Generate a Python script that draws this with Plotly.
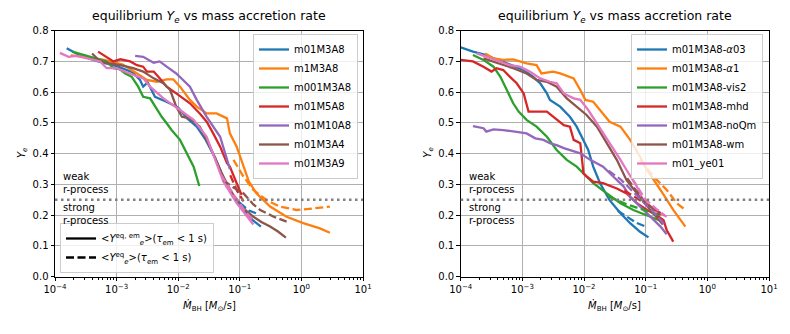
import plotly.graph_objects as go

# ---------------- data ----------------
COLORS = ["#1f77b4", "#ff7f0e", "#2ca02c", "#d62728", "#9467bd", "#8c564b", "#e377c2"]

LEFT_NAMES = ["m01M3A8", "m1M3A8", "m001M3A8", "m01M5A8", "m01M10A8", "m01M3A4", "m01M3A9"]
RIGHT_NAMES = ["m01M3A8-<i>α</i>03", "m01M3A8-<i>α</i>1", "m01M3A8-vis2", "m01M3A8-mhd",
               "m01M3A8-noQm", "m01M3A8-wm", "m01_ye01"]

X_TICKVALS = [1e-4, 1e-3, 1e-2, 1e-1, 1e0, 1e1]
X_TICKTEXT = ["10<sup>−4</sup>", "10<sup>−3</sup>", "10<sup>−2</sup>", "10<sup>−1</sup>",
              "10<sup>0</sup>", "10<sup>1</sup>"]
RPROCESS_THRESHOLD = 0.25

# ---- left panel: solid = <Ye^eq,em>, dashed = <Ye^eq> ----
L1_x = [1.55e-4, 2.5e-4, 5.0e-4, 1.0e-3, 1.8e-3, 2.4e-3, 2.7e-3, 3.2e-3, 4.2e-3, 6.3e-3, 1.0e-2,
        1.4e-2, 2.0e-2, 2.8e-2, 4.0e-2, 5.6e-2, 7.9e-2, 0.11, 0.16, 0.22]
L1_y = [0.743, 0.72, 0.70, 0.685, 0.665, 0.64, 0.618, 0.632, 0.585, 0.57, 0.55,
        0.515, 0.488, 0.445, 0.385, 0.315, 0.26, 0.22, 0.185, 0.163]
L1_dx = [0.1, 0.14, 0.19]
L1_dy = [0.24, 0.215, 0.205]

L2_x = [1.8e-4, 3.2e-4, 6.3e-4, 1.26e-3, 2.0e-3, 3.1e-3, 4.5e-3, 6.5e-3, 8.3e-3, 1.07e-2, 1.55e-2,
        2.0e-2, 2.9e-2, 4.2e-2, 6.2e-2, 6.9e-2, 8.9e-2, 0.115, 0.14, 0.186, 0.31, 0.575, 1.07, 2.0, 2.9]
L2_y = [0.72, 0.715, 0.705, 0.69, 0.665, 0.64, 0.634, 0.642, 0.642, 0.618, 0.575,
        0.553, 0.531, 0.531, 0.515, 0.466, 0.423, 0.358, 0.31, 0.271, 0.228, 0.195, 0.174, 0.157, 0.143]
L2_dx = [0.079, 0.115, 0.166, 0.272, 0.447, 0.83, 1.55, 2.9]
L2_dy = [0.38, 0.325, 0.282, 0.249, 0.228, 0.217, 0.222, 0.228]

L3_x = [1.9e-4, 3.7e-4, 6.9e-4, 8.9e-4, 1.12e-3, 1.38e-3, 1.76e-3, 2.24e-3, 2.7e-3, 3.5e-3, 4.2e-3,
        5.4e-3, 6.5e-3, 7.8e-3, 1.07e-2, 1.38e-2, 1.78e-2, 2.2e-2]
L3_y = [0.732, 0.715, 0.70, 0.678, 0.675, 0.661, 0.65, 0.618, 0.585, 0.58, 0.553,
        0.52, 0.499, 0.477, 0.445, 0.40, 0.358, 0.295]
L3_dx = []
L3_dy = []

L4_x = [5.0e-4, 6.9e-4, 8.9e-4, 1.15e-3, 1.66e-3, 2.14e-3, 2.7e-3, 3.1e-3, 4.0e-3, 5.0e-3, 6.5e-3,
        9.3e-3, 1.55e-2, 2.24e-2, 2.9e-2, 3.7e-2, 4.8e-2, 6.2e-2, 6.9e-2, 8.9e-2, 0.107]
L4_y = [0.732, 0.715, 0.70, 0.707, 0.70, 0.688, 0.683, 0.667, 0.667, 0.645, 0.618,
        0.596, 0.564, 0.531, 0.504, 0.466, 0.423, 0.369, 0.358, 0.304, 0.266]
L4_dx = [0.07, 0.09, 0.115]
L4_dy = [0.33, 0.28, 0.245]

L5_x = [2.0e-3, 2.7e-3, 4.0e-3, 5.0e-3, 6.5e-3, 9.3e-3, 1.55e-2, 2.0e-2, 2.9e-2, 3.7e-2, 4.8e-2,
        5.8e-2, 6.9e-2]
L5_y = [0.718, 0.715, 0.696, 0.70, 0.683, 0.661, 0.618, 0.575, 0.52, 0.488, 0.455, 0.40, 0.35]
L5_dx = []
L5_dy = []

L6_x = [4.0e-4, 5.4e-4, 7.8e-4, 1.15e-3, 1.86e-3, 2.7e-3, 4.0e-3, 5.75e-3, 7.4e-3, 9.3e-3, 1.15e-2,
        1.55e-2, 2.24e-2, 2.9e-2, 3.9e-2, 5.0e-2, 6.3e-2, 7.9e-2, 0.1, 0.126, 0.166, 0.224, 0.31,
        0.417, 0.56]
L6_y = [0.726, 0.70, 0.694, 0.688, 0.678, 0.667, 0.645, 0.629, 0.607, 0.553, 0.52,
        0.515, 0.488, 0.445, 0.39, 0.34, 0.30, 0.265, 0.24, 0.215, 0.195, 0.178, 0.163,
        0.147, 0.127]
L6_dx = [5.4e-2, 7.9e-2, 0.115, 0.166, 0.214, 0.355, 0.575]
L6_dy = [0.314, 0.29, 0.271, 0.235, 0.217, 0.195, 0.179]

L7_x = [1.2e-4, 1.66e-4, 2.24e-4, 5.4e-4, 6.9e-4, 1.0e-3, 1.66e-3, 2.7e-3, 3.5e-3, 5.75e-3, 1.07e-2,
        1.78e-2, 2.9e-2, 3.7e-2, 5.4e-2, 8.9e-2, 0.166]
L7_y = [0.728, 0.715, 0.718, 0.70, 0.678, 0.678, 0.66, 0.645, 0.618, 0.58, 0.542,
        0.51, 0.455, 0.40, 0.31, 0.239, 0.17]
L7_dx = [0.05, 0.08, 0.12, 0.16]
L7_dy = [0.33, 0.265, 0.215, 0.185]

# ---- right panel ----
R1_x = [1.0e-4, 1.58e-4, 2.6e-4, 3.4e-4, 5.6e-4, 7.6e-4, 1.05e-3, 1.5e-3, 1.95e-3, 2.5e-3, 2.8e-3,
        4.1e-3, 5.9e-3, 7.6e-3, 9.8e-3, 1.17e-2, 1.41e-2, 1.82e-2, 2.6e-2, 3.9e-2, 5.6e-2, 8.1e-2, 0.111]
R1_y = [0.746, 0.732, 0.721, 0.71, 0.694, 0.683, 0.672, 0.65, 0.629, 0.596, 0.575,
        0.553, 0.52, 0.488, 0.445, 0.412, 0.358, 0.304, 0.249, 0.206, 0.174, 0.146, 0.128]
R1_dx = [3.5e-2, 4.9e-2, 7.1e-2, 0.1]
R1_dy = [0.215, 0.195, 0.175, 0.163]

R2_x = [2.5e-4, 3.4e-4, 4.9e-4, 7.1e-4, 1.17e-3, 1.7e-3, 2.04e-3, 3.16e-3, 4.1e-3, 6.8e-3, 8.7e-3,
        1.05e-2, 1.41e-2, 1.82e-2, 2.6e-2, 3.9e-2, 5.6e-2, 8.1e-2, 0.105, 0.174, 0.28, 0.44]
R2_y = [0.726, 0.71, 0.705, 0.707, 0.694, 0.688, 0.661, 0.667, 0.661, 0.645, 0.607,
        0.575, 0.569, 0.542, 0.504, 0.488, 0.445, 0.39, 0.347, 0.282, 0.217, 0.163]
R2_dx = [8.1e-2, 0.135, 0.22, 0.32, 0.44]
R2_dy = [0.38, 0.325, 0.282, 0.239, 0.217]

R3_x = [1.58e-4, 2.34e-4, 3.4e-4, 4.4e-4, 5.6e-4, 7.1e-4, 8.7e-4, 1.17e-3, 1.7e-3, 2.5e-3, 3.6e-3,
        5.25e-3, 7.6e-3, 1.1e-2, 1.41e-2, 2.34e-2, 3.9e-2, 6.3e-2, 0.105, 0.174]
R3_y = [0.721, 0.705, 0.683, 0.65, 0.607, 0.564, 0.537, 0.51, 0.488, 0.455, 0.412,
        0.38, 0.358, 0.325, 0.304, 0.271, 0.239, 0.217, 0.20, 0.182]
R3_dx = [2.5e-2, 5.0e-2, 0.1, 0.17]
R3_dy = [0.26, 0.235, 0.215, 0.20]

R4_x = [1.0e-4, 1.58e-4, 2.34e-4, 3.16e-4, 3.8e-4, 4.9e-4, 6.3e-4, 8.1e-4, 1.05e-3, 1.26e-3, 2.5e-3,
        3.6e-3, 4.7e-3, 5.9e-3, 6.8e-3, 8.7e-3, 9.8e-3, 1.12e-2, 1.41e-2, 2.04e-2, 3.4e-2, 4.9e-2,
        7.2e-2, 0.105, 0.151, 0.195, 0.219, 0.28]
R4_y = [0.705, 0.70, 0.683, 0.667, 0.678, 0.672, 0.65, 0.629, 0.596, 0.537, 0.537,
        0.51, 0.493, 0.488, 0.445, 0.434, 0.336, 0.325, 0.309, 0.304, 0.287, 0.271,
        0.239, 0.217, 0.20, 0.184, 0.152, 0.114]
R4_dx = [4.5e-2, 6.3e-2, 0.1, 0.15, 0.2]
R4_dy = [0.28, 0.262, 0.235, 0.215, 0.20]

R5_x = [1.58e-4, 2.34e-4, 2.6e-4, 3.4e-4, 4.9e-4, 7.1e-4, 1.17e-3, 1.62e-3, 2.2e-3, 2.8e-3, 3.6e-3,
        4.7e-3, 5.9e-3, 8.7e-3, 1.26e-2, 2.04e-2, 3.0e-2, 4.4e-2, 5.6e-2, 8.1e-2, 0.117, 0.174, 0.219]
R5_y = [0.49, 0.483, 0.472, 0.479, 0.477, 0.472, 0.466, 0.45, 0.445, 0.434, 0.428,
        0.418, 0.412, 0.401, 0.38, 0.358, 0.325, 0.293, 0.26, 0.228, 0.195, 0.163, 0.138]
R5_dx = [2.5e-2, 4.0e-2, 6.0e-2, 0.1, 0.15, 0.2]
R5_dy = [0.345, 0.315, 0.28, 0.235, 0.2, 0.17]

R6_x = [2.34e-4, 3.4e-4, 4.9e-4, 7.1e-4, 1.17e-3, 1.7e-3, 2.5e-3, 3.6e-3, 5.25e-3, 7.6e-3, 1.1e-2,
        1.62e-2, 2.34e-2, 3.4e-2, 4.9e-2, 7.2e-2, 0.1, 0.141, 0.19]
R6_y = [0.71, 0.70, 0.688, 0.678, 0.661, 0.64, 0.634, 0.618, 0.58, 0.553, 0.526,
        0.488, 0.434, 0.38, 0.314, 0.27, 0.235, 0.2, 0.17]
R6_dx = [5.0e-2, 9.1e-2, 0.126, 0.174]
R6_dy = [0.32, 0.249, 0.225, 0.20]

R7_x = [1.82e-4, 2.6e-4, 4.4e-4, 6.3e-4, 9.1e-4, 1.32e-3, 1.95e-3, 2.8e-3, 3.6e-3, 4.7e-3, 6.8e-3,
        8.7e-3, 1.17e-2, 1.62e-2, 2.6e-2, 3.9e-2, 4.9e-2, 7.2e-2, 9.1e-2, 0.135, 0.174, 0.219]
R7_y = [0.726, 0.715, 0.70, 0.688, 0.683, 0.667, 0.645, 0.634, 0.629, 0.596, 0.58,
        0.575, 0.542, 0.499, 0.434, 0.38, 0.347, 0.293, 0.249, 0.217, 0.206, 0.195]
R7_dx = [6.0e-2, 0.1, 0.15, 0.2]
R7_dy = [0.32, 0.25, 0.22, 0.20]

LEFT_SERIES = [(L1_x, L1_y, L1_dx, L1_dy), (L2_x, L2_y, L2_dx, L2_dy), (L3_x, L3_y, L3_dx, L3_dy),
               (L4_x, L4_y, L4_dx, L4_dy), (L5_x, L5_y, L5_dx, L5_dy), (L6_x, L6_y, L6_dx, L6_dy),
               (L7_x, L7_y, L7_dx, L7_dy)]
RIGHT_SERIES = [(R1_x, R1_y, R1_dx, R1_dy), (R2_x, R2_y, R2_dx, R2_dy), (R3_x, R3_y, R3_dx, R3_dy),
                (R4_x, R4_y, R4_dx, R4_dy), (R5_x, R5_y, R5_dx, R5_dy), (R6_x, R6_y, R6_dx, R6_dy),
                (R7_x, R7_y, R7_dx, R7_dy)]

# ---------------- figure ----------------
W, H = 790, 334
FONT = "DejaVu Sans"
LW = 2.3
DASH = "8px,3.5px"

fig = go.Figure()


def add_panel(series, names, xa, ya, legend):
    for (x, y, dx, dy), name, c in zip(series, names, COLORS):
        fig.add_trace(go.Scatter(x=x, y=y, mode="lines", name=name, legend=legend,
                                 line=dict(color=c, width=LW), xaxis=xa, yaxis=ya))
    for (x, y, dx, dy), name, c in zip(series, names, COLORS):
        if dx:
            fig.add_trace(go.Scatter(x=dx, y=dy, mode="lines", showlegend=False, legend=legend,
                                     line=dict(color=c, width=LW, dash=DASH), xaxis=xa, yaxis=ya))


add_panel(LEFT_SERIES, LEFT_NAMES, "x", "y", "legend")
add_panel(RIGHT_SERIES, RIGHT_NAMES, "x2", "y2", "legend3")

# style legend entries
fig.add_trace(go.Scatter(x=[None], y=[None], mode="lines", legend="legend2", xaxis="x", yaxis="y",
                         name="&lt;<i>Y</i><sup>eq, em</sup><sub><i>e</i></sub>&gt;(<i>τ</i><sub>em</sub> &lt; 1 s)",
                         line=dict(color="black", width=LW)))
fig.add_trace(go.Scatter(x=[None], y=[None], mode="lines", legend="legend2", xaxis="x", yaxis="y",
                         name="&lt;<i>Y</i><sup>eq</sup><sub><i>e</i></sub>&gt;(<i>τ</i><sub>em</sub> &lt; 1 s)",
                         line=dict(color="black", width=LW, dash=DASH)))

# geometry in pixels
LX0, LX1 = 55, 363
RX0, RX1 = 460.7, 769
YT, YB = 30.7, 276.7
ydom = [1 - YB / H, 1 - YT / H]


def xaxis_cfg(x0, x1, anchor):
    return dict(type="log", domain=[x0 / W, x1 / W], range=[-4, 1], anchor=anchor,
                showline=True, mirror=True, linecolor="black", linewidth=1,
                ticks="outside", ticklen=3.5, tickcolor="black", tickwidth=1,
                tickmode="array", tickvals=X_TICKVALS, ticktext=X_TICKTEXT,
                showgrid=True, gridcolor="#b0b0b0", gridwidth=1, zeroline=False,
                automargin=False,
                tickfont=dict(family=FONT, size=10, color="black"),
                minor=dict(ticks="outside", ticklen=2, dtick="D1",
                           tickcolor="black", tickwidth=0.8, showgrid=False))


def yaxis_cfg(anchor):
    return dict(domain=ydom, range=[0, 0.8], anchor=anchor, dtick=0.1, tick0=0, tickformat=".1f",
                showline=True, mirror=True, linecolor="black", linewidth=1,
                ticks="outside", ticklen=3.5, tickcolor="black", tickwidth=1,
                showgrid=True, gridcolor="#b0b0b0", gridwidth=1, zeroline=False,
                automargin=False,
                tickfont=dict(family=FONT, size=10, color="black"))


legend_common = dict(font=dict(family=FONT, size=10, color="black"), bgcolor="rgba(255,255,255,0.8)",
                     bordercolor="#cccccc", borderwidth=1, tracegroupgap=0, itemwidth=30)

fig.update_layout(
    width=W, height=H, autosize=False,
    margin=dict(l=0, r=0, t=0, b=0, pad=0),
    paper_bgcolor="white", plot_bgcolor="white",
    font=dict(family=FONT, size=10, color="black"),
    xaxis=xaxis_cfg(LX0, LX1, "y"), yaxis=yaxis_cfg("x"),
    xaxis2=xaxis_cfg(RX0, RX1, "y2"), yaxis2=yaxis_cfg("x2"),
    legend=dict(x=358 / W, y=1 - 34 / H, xanchor="right", yanchor="top", **legend_common),
    legend3=dict(x=763 / W, y=1 - 34 / H, xanchor="right", yanchor="top", **legend_common),
    legend2=dict(x=60 / W, y=1 - 273 / H, xanchor="left", yanchor="bottom", **legend_common),
    showlegend=True,
)

shapes = []
for xr, yr in (("x domain", "y"), ("x2 domain", "y2")):
    shapes.append(dict(type="line", xref=xr, yref=yr, x0=0, x1=1, y0=RPROCESS_THRESHOLD,
                       y1=RPROCESS_THRESHOLD, layer="above",
                       line=dict(color="#808080", width=2.5, dash="2.5px,3.5px")))
fig.update_layout(shapes=shapes)

ann = []
TITLE = "equilibrium <i>Y<sub>e</sub></i> vs mass accretion rate"
XLABEL = "<i>Ṁ</i><sub>BH</sub> [<i>M</i><sub>⊙</sub>/s]"
for x0, x1, xr, yr in ((LX0, LX1, "x", "y"), (RX0, RX1, "x2", "y2")):
    cx = (x0 + x1) / 2 / W
    ann.append(dict(text=TITLE, x=cx, y=1 - 16.5 / H, xref="paper", yref="paper", showarrow=False,
                    xanchor="center", yanchor="middle", font=dict(family=FONT, size=12.5)))
    ann.append(dict(text=XLABEL, x=cx, y=1 - 306 / H, xref="paper", yref="paper", showarrow=False,
                    xanchor="center", yanchor="middle", font=dict(family=FONT, size=10)))
    ann.append(dict(text="<i>Y<sub>e</sub></i>", x=(x0 - 33) / W, y=1 - 153 / H, xref="paper",
                    yref="paper", showarrow=False, textangle=-90, xanchor="center", yanchor="middle",
                    font=dict(family=FONT, size=10)))
    ann.append(dict(text="weak<br>r-process", x=(x0 + 6) / W, y=RPROCESS_THRESHOLD + 0.008,
                    xref="paper", yref=yr, showarrow=False, xanchor="left", yanchor="bottom",
                    align="left", font=dict(family=FONT, size=10)))
    ann.append(dict(text="strong<br>r-process", x=(x0 + 6) / W, y=RPROCESS_THRESHOLD - 0.002,
                    xref="paper", yref=yr, showarrow=False, xanchor="left", yanchor="top",
                    align="left", font=dict(family=FONT, size=10)))
fig.update_layout(annotations=ann)

fig.write_html("out.html", config={"displayModeBar": False},
               post_script="document.body.style.margin='0';document.body.style.padding='0';")
